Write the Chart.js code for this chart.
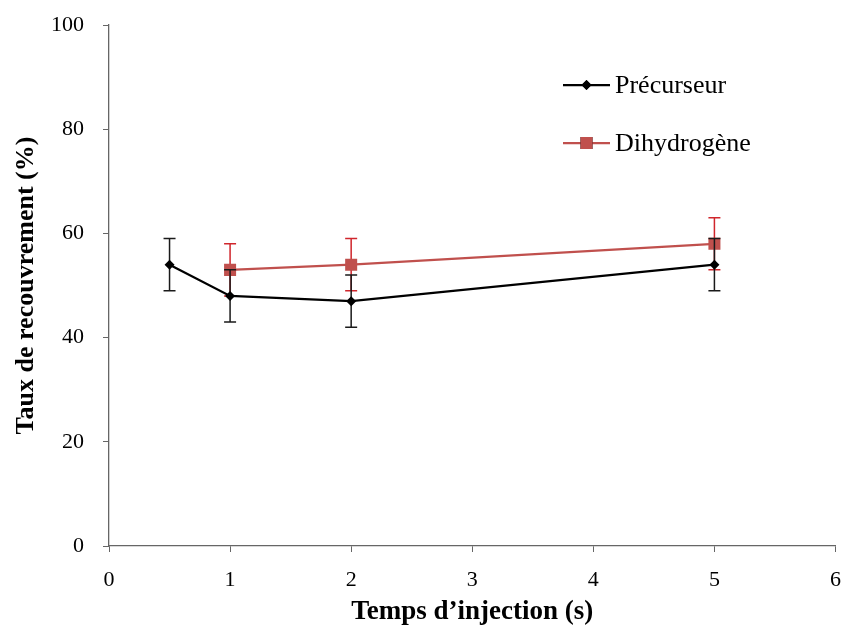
<!DOCTYPE html>
<html>
<head>
<meta charset="utf-8">
<script src="https://cdn.jsdelivr.net/npm/chart.js@4"></script>
<style>
  body { margin: 0; background: #fff; }
</style>
</head>
<body>
<canvas id="chart" width="844" height="630"></canvas>
<script>
// data
var seriesNames = ['Précurseur', 'Dihydrogène'];
var precTimes = [0.5, 1, 2, 5];
var precValues = [54, 48, 47, 54];
var precErrors = [5, 5, 5, 5];
var dihTimes = [1, 2, 5];
var dihValues = [53, 54, 58];
var dihErrors = [5, 5, 5];

var FONT = '"Liberation Serif", "Times New Roman", serif';
var RED = '#c0504d';
var RED_ERR = '#d0262c';
var AXIS = '#666666';

function toPoints(xs, ys) {
  var pts = [];
  for (var i = 0; i < xs.length; i++) pts.push({ x: xs[i], y: ys[i] });
  return pts;
}

// error bars drawn under each series' own line and markers
var errorBars = {
  id: 'errorBars',
  beforeDatasetDraw: function(chart, args) {
    var ds = chart.data.datasets[args.index];
    if (!ds.errors) return;
    var ctx = chart.ctx;
    var xs = chart.scales.x, ys = chart.scales.y;
    ctx.save();
    ctx.strokeStyle = ds.errColor;
    ctx.lineWidth = 1.5;
    for (var i = 0; i < ds.data.length; i++) {
      var p = ds.data[i];
      var px = xs.getPixelForValue(p.x);
      var top = ys.getPixelForValue(p.y + ds.errors[i]);
      var bot = ys.getPixelForValue(p.y - ds.errors[i]);
      ctx.beginPath();
      ctx.moveTo(px, top); ctx.lineTo(px, bot);
      ctx.moveTo(px - 6, top); ctx.lineTo(px + 6, top);
      ctx.moveTo(px - 6, bot); ctx.lineTo(px + 6, bot);
      ctx.stroke();
    }
    ctx.restore();
  }
};

// legend sitting inside the plot, top right
var innerLegend = {
  id: 'innerLegend',
  afterDraw: function(chart) {
    var ctx = chart.ctx;
    var x0 = 563, x1 = 610, tx = 615;
    var rows = [85, 143];
    ctx.save();
    chart.data.datasets.forEach(function(ds, i) {
      var y = rows[i];
      ctx.strokeStyle = ds.borderColor;
      ctx.lineWidth = 2.25;
      ctx.beginPath();
      ctx.moveTo(x0, y); ctx.lineTo(x1, y);
      ctx.stroke();
      Chart.helpers.drawPoint(ctx, {
        pointStyle: ds.pointStyle,
        radius: ds.pointRadius,
        borderWidth: 0
      }, (x0 + x1) / 2, y);
      ctx.fillStyle = ds.pointBackgroundColor;
      ctx.fill();
      ctx.fillStyle = '#000';
      ctx.font = '26px ' + FONT;
      ctx.textBaseline = 'middle';
      ctx.fillText(ds.label, tx, y + 1);
    });
    ctx.restore();
  }
};

var chart = new Chart(document.getElementById('chart').getContext('2d'), {
  type: 'scatter',
  data: {
    datasets: [{
      label: seriesNames[0],
      data: toPoints(precTimes, precValues),
      errors: precErrors,
      errColor: '#1a1a1a',
      showLine: true,
      borderColor: '#000',
      borderWidth: 2.25,
      pointStyle: 'rectRot',
      pointRadius: 5,
      pointBackgroundColor: '#000',
      pointBorderColor: '#000',
      pointBorderWidth: 0
    }, {
      label: seriesNames[1],
      data: toPoints(dihTimes, dihValues),
      errors: dihErrors,
      errColor: RED_ERR,
      showLine: true,
      borderColor: RED,
      borderWidth: 2.25,
      pointStyle: 'rect',
      pointRadius: 8.5,
      pointBackgroundColor: RED,
      pointBorderColor: RED,
      pointBorderWidth: 0
    }]
  },
  options: {
    responsive: false,
    animation: false,
    layout: { padding: { top: 25, right: 4, left: 0, bottom: 0 } },
    plugins: {
      legend: { display: false },
      tooltip: { enabled: false }
    },
    scales: {
      x: {
        type: 'linear',
        min: 0,
        max: 6,
        ticks: { stepSize: 1, color: '#000', padding: 15, font: { family: FONT, size: 22 } },
        grid: { drawOnChartArea: false, drawTicks: true, tickLength: 6, color: AXIS, lineWidth: 1 },
        border: { color: AXIS, width: 1.3 },
        title: {
          display: true,
          text: 'Temps d’injection (s)',
          color: '#000',
          font: { family: FONT, size: 27, weight: 'bold' },
          padding: { top: 4, bottom: 2 }
        },
        afterFit: function(s) {
          s.height = 84;
          s.paddingLeft = 0;
          s.paddingRight = 0;
        }
      },
      y: {
        min: 0,
        max: 100,
        ticks: { stepSize: 20, color: '#000', padding: 19, font: { family: FONT, size: 22 } },
        grid: { drawOnChartArea: false, drawTicks: true, tickLength: 6, color: AXIS, lineWidth: 1 },
        border: { color: AXIS, width: 1.3 },
        title: {
          display: true,
          text: 'Taux de recouvrement (%)',
          color: '#000',
          font: { family: FONT, size: 26, weight: 'bold' },
          padding: { top: 11, bottom: 0 }
        },
        afterFit: function(s) {
          s.width = 109;
          s.paddingTop = 0;
          s.paddingBottom = 0;
        }
      }
    }
  },
  plugins: [errorBars, innerLegend]
});
</script>
</body>
</html>
